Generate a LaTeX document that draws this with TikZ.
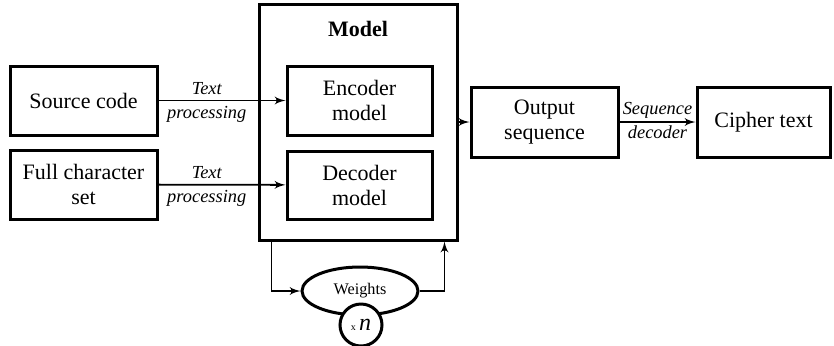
\documentclass[tikz,border=0pt]{standalone}
\usepackage{fontspec}
\setmainfont{Liberation Serif}
\usetikzlibrary{shapes,arrows,positioning,calc}

\begin{document}
\begin{tikzpicture}[
    x=0.5pt, y=-0.5pt,
    block/.style={
        rectangle,
        draw=black,
        line width=1.5pt,
        align=center,
        fill=white,
        font=\fontsize{11}{12.5}\selectfont
    },
    line/.style={draw=black, line width=0.9pt, -latex'},
    label text/.style={font=\fontsize{9.2}{10}\selectfont\itshape, inner sep=2.5pt}
]
\useasboundingbox (0,0) rectangle (834,345);

% Model container
\node [block, minimum width=99pt, minimum height=118pt] (model) at (358,122) {};
\node [font=\fontsize{11}{12}\selectfont\bfseries] (title) at (358,29) {Model};

% Inputs
\node [block, minimum width=73.5pt, minimum height=34.5pt] (src) at (83.5,100.5) {Source code};
\node [block, minimum width=73.5pt, minimum height=34.5pt] (charset) at (83.5,184.5) {Full character\\set};

% Inner blocks
\node [block, minimum width=72.5pt, minimum height=34.5pt] (enc) at (359.5,100.5) {Encoder\\model};
\node [block, minimum width=72.5pt, minimum height=34pt] (dec) at (359.5,185) {Decoder\\model};

% Outputs
\node [block, minimum width=73.5pt, minimum height=35pt] (out) at (544.5,122) {Output\\sequence};
\node [block, minimum width=66.5pt, minimum height=35pt] (cipher) at (763.5,122) {Cipher text};

% Weights
\node [ellipse, draw, line width=1.5pt, fill=white, minimum width=58pt, minimum height=24pt,
       inner sep=0pt, font=\fontsize{8.1}{9}\selectfont] (weights) at (360,291) {Weights};
\node [circle, draw, line width=1.5pt, fill=white, minimum size=21pt, inner sep=0pt]
    (times) at (361,325) {\raisebox{0.3pt}{\fontsize{5}{5}\selectfont x}\,\fontsize{12}{12}\selectfont\textit{n}};

% Connections
\draw [line] (src) -- node[label text, pos=0.38, above] {Text} node[label text, pos=0.38, below] {processing} (enc);
\draw [line] (charset) -- node[label text, pos=0.38, above] {Text} node[label text, pos=0.38, below] {processing} (dec);
\draw [line] (model) -- (out);
\draw [line] (out) -- node[label text, above, inner sep=1.5pt] {Sequence} node[label text, below, inner sep=1.5pt] {decoder} (cipher);
\draw [line] ($(model.south west)+(14,0)$) |- (weights.west);
\draw [line] (weights.east) -| ($(model.south east)+(-14,0)$);

\end{tikzpicture}
\end{document}
